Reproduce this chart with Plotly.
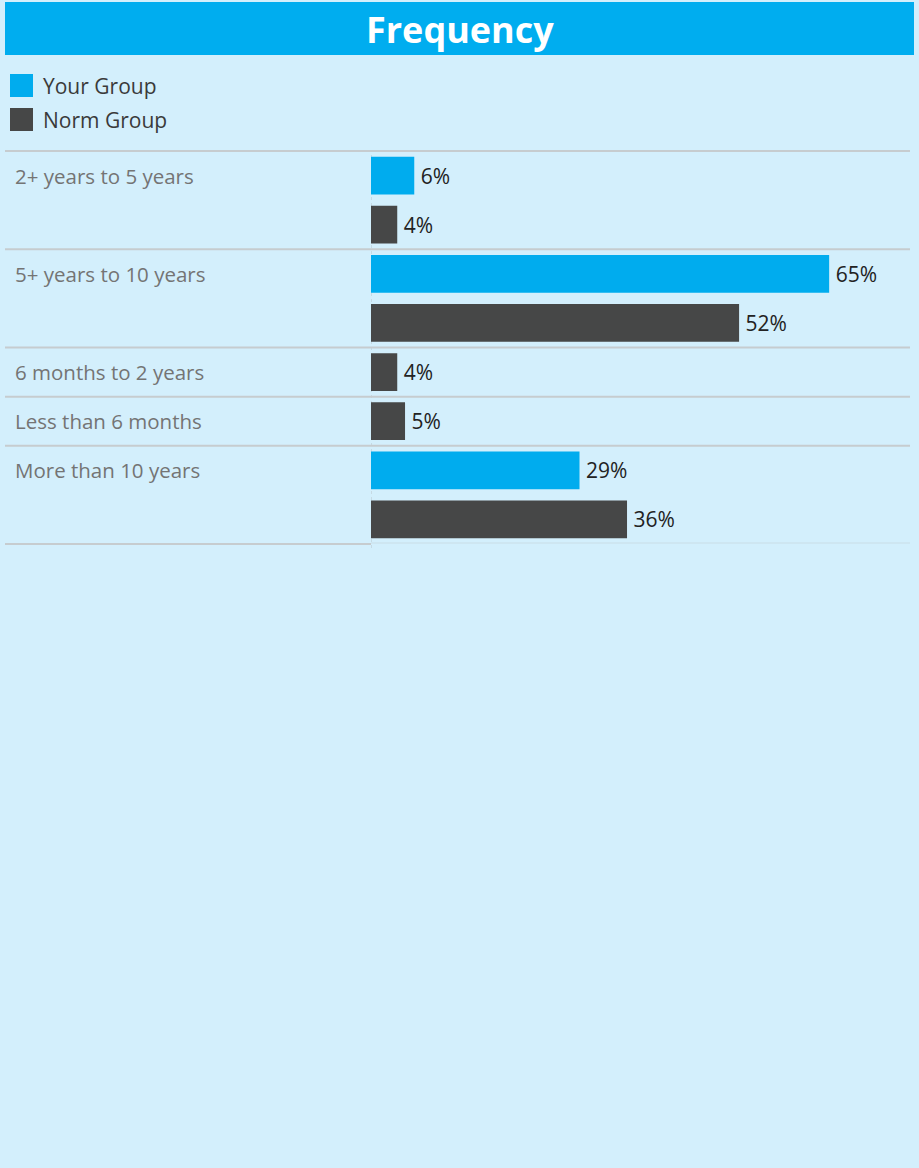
import plotly.graph_objects as go

# ---- data ----
categories = ["2+ years to 5 years", "5+ years to 10 years", "6 months to 2 years",
              "Less than 6 months", "More than 10 years"]
your_group = [6.1, 64.6, None, None, 29.4]
norm_group = [3.7, 51.9, 3.7, 4.8, 36.1]
series_names = ["Your Group", "Norm Group"]
series_colors = ["#00ACEE", "#464747"]
title_text = "Frequency"

# ---- layout geometry (pixels) ----
W, H = 919, 1168
PL, PR, PT, PB = 371, 910, 151, 544
BG = "#D3EFFC"
FONT = "Open Sans"
SEP = "#C6CCCF"


def px2x(px):
    return (px - PL) / (PR - PL)


def py2y(py):
    return (PB - py) / (PB - PT)


rows = []
cat_starts = []
series_data = {n: ([], []) for n in series_names}
for cat, vals in zip(categories, zip(your_group, norm_group)):
    cat_starts.append(len(rows))
    for name, v in zip(series_names, vals):
        if v is None:
            continue
        key = f"{cat} | {name}"
        rows.append(key)
        series_data[name][0].append(key)
        series_data[name][1].append(v)

fig = go.Figure()
for name, color in zip(series_names, series_colors):
    ys, xs = series_data[name]
    fig.add_trace(go.Bar(
        name=name, orientation="h", y=ys, x=xs, width=0.77,
        marker=dict(color=color, line=dict(width=0)),
        texttemplate="\u2009%{x:.0f}%", textposition="outside",
        textfont=dict(family=FONT, size=21, color="#222222"),
        cliponaxis=False, showlegend=False,
    ))

shapes = []
# faint dashed axis line (behind bars)
shapes.append(dict(type="line", xref="x", yref="paper", x0=0, x1=0, y0=py2y(548), y1=1,
                   line=dict(color="#B9C6CC", width=1, dash="dot"), layer="below"))
# separators between categories (top edge drawn in paper coords so it is not clipped)
for s in cat_starts:
    if s == 0:
        shapes.append(dict(type="line", xref="paper", yref="paper", x0=px2x(5), x1=1,
                           y0=1, y1=1, line=dict(color=SEP, width=2)))
    else:
        shapes.append(dict(type="line", xref="paper", yref="y", x0=px2x(5), x1=1,
                           y0=s - 0.5, y1=s - 0.5, line=dict(color=SEP, width=2)))
n = len(rows)
shapes.append(dict(type="line", xref="paper", yref="paper", x0=px2x(5), x1=0,
                   y0=0, y1=0, line=dict(color=SEP, width=2)))
shapes.append(dict(type="line", xref="paper", yref="paper", x0=0, x1=1,
                   y0=py2y(543), y1=py2y(543), line=dict(color="#C9DDE6", width=1)))
# title bar
shapes.append(dict(type="rect", xref="paper", yref="paper", x0=px2x(5), x1=px2x(914),
                   y0=py2y(55), y1=py2y(2), fillcolor="#00ADEF", line=dict(width=0), layer="below"))

annotations = [dict(text=f"<b>{title_text}</b>", xref="paper", yref="paper",
                    x=px2x(459.5), y=py2y(30), xanchor="center", yanchor="middle",
                    showarrow=False, font=dict(family=FONT, size=36, color="white"))]

# manual legend
for i, (name, color) in enumerate(zip(series_names, series_colors)):
    top = 74 + 34 * i
    shapes.append(dict(type="rect", xref="paper", yref="paper", x0=px2x(10), x1=px2x(33),
                       y0=py2y(top + 23), y1=py2y(top), fillcolor=color, line=dict(width=0)))
    annotations.append(dict(text=name, xref="paper", yref="paper", x=px2x(41), y=py2y(top + 12.5),
                            xanchor="left", yanchor="middle", showarrow=False,
                            font=dict(family=FONT, size=21, color="#3A3A3A")))

# category labels
for cat, s in zip(categories, cat_starts):
    annotations.append(dict(text=cat, xref="paper", yref="y", x=px2x(13), y=rows[s],
                            xanchor="left", yanchor="middle", showarrow=False,
                            font=dict(family=FONT, size=20.5, color="#747474")))

fig.update_layout(
    width=W, height=H,
    margin=dict(l=PL, r=W - PR, t=PT, b=H - PB, pad=0),
    paper_bgcolor=BG, plot_bgcolor=BG,
    barmode="overlay",
    xaxis=dict(range=[0, 76], visible=False, fixedrange=True),
    yaxis=dict(categoryorder="array", categoryarray=rows, range=[n - 0.5, -0.5],
               showticklabels=False, showgrid=False, zeroline=False, ticks="", showline=False),
    shapes=shapes, annotations=annotations,
    showlegend=False,
)

fig.write_html("out.html")
